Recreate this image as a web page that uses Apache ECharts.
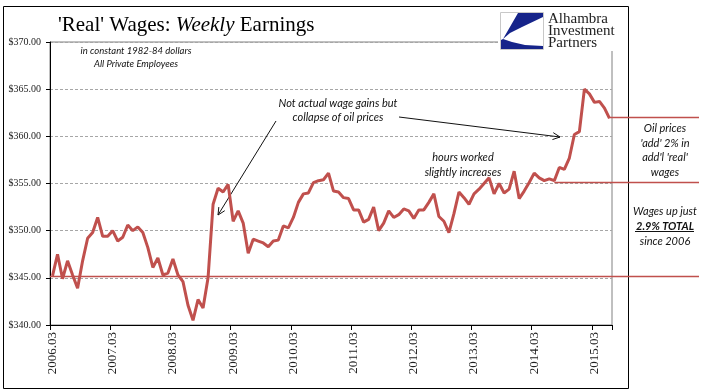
<!DOCTYPE html>
<html>
<head>
<meta charset="utf-8">
<script src="https://cdn.jsdelivr.net/npm/echarts@6/dist/echarts.min.js"></script>
<style>
  html, body { margin: 0; padding: 0; background: #fff; }
  #chart { width: 705px; height: 392px; }
</style>
</head>
<body>
<div id="chart"></div>
<script>
// ---------------- data ----------------
const startYear = 2006, startMonth = 3, monthCount = 112;   // 2006.03 .. 2015.06
const categories = [];
for (let k = 0; k < monthCount; k++) {
  const m = startMonth - 1 + k;
  const y = startYear + Math.floor(m / 12);
  const mm = (m % 12) + 1;
  categories.push(y + '.' + (mm < 10 ? '0' + mm : '' + mm));
}

// Real average weekly earnings, all private employees (1982-84 $)
const wages2006_2008 = [345.2, 347.5, 344.9, 346.8, 345.3, 343.9, 346.8, 349.2, 349.8, 351.4, 349.4, 349.4,
                        350.0, 348.9, 349.3, 350.6, 350.0, 350.4, 349.8, 348.2, 346.1, 347.1, 345.3, 345.5];
const wages2008_2010 = [347.0, 345.3, 344.6, 342.1, 340.5, 342.7, 341.8, 345.0, 352.8, 354.5, 354.1, 354.9,
                        351.0, 352.1, 350.8, 347.6, 349.1, 348.9, 348.7, 348.3, 348.9, 349.0, 350.5, 350.3];
const wages2010_2012 = [351.4, 353.0, 353.9, 354.0, 355.1, 355.3, 355.4, 356.1, 354.2, 354.1, 353.5, 353.4,
                        352.2, 352.2, 350.9, 351.2, 352.5, 350.0, 350.8, 352.1, 351.4, 351.7, 352.3, 352.1];
const wages2012_2014 = [351.3, 352.2, 352.2, 353.0, 353.9, 351.5, 351.0, 349.8, 351.8, 354.1, 353.5, 352.8,
                        353.9, 354.4, 355.0, 355.6, 353.9, 355.0, 354.0, 354.4, 356.3, 353.4, 354.2, 355.1];
const wages2014_2015 = [356.1, 355.6, 355.3, 355.5, 355.3, 356.7, 356.5, 357.7, 360.2, 360.5, 365.0, 364.5,
                        363.6, 363.7, 363.0, 361.9];
const wages = [].concat(wages2006_2008, wages2008_2010, wages2010_2012, wages2012_2014, wages2014_2015);

const yMin = 340, yMax = 370, yStep = 5;

// reference levels: [category index where the line starts, level]
const refLevels = [[0, 345.1], [100, 355.1], [111, 361.9]];

const titleParts = ["'Real' Wages: ", 'Weekly', ' Earnings'];
const subtitleLines = ['in constant 1982-84 dollars', 'All Private Employees'];
const noteOil = ['Not actual wage gains but', 'collapse of oil prices'];
const noteHours = ['hours worked', 'slightly increases'];
const noteAdd = ['Oil prices', "'add' 2% in", "add'l 'real'", 'wages'];
const noteTotal = ['Wages up just', '2.9% TOTAL', 'since 2006'];
const logoLines = ['Alhambra', 'Investment', 'Partners'];

// ---------------- chart ----------------
const chart = echarts.init(document.getElementById('chart'), null, { renderer: 'canvas' });

const GRID = { left: 50, right: 93, top: 42, bottom: 67 };

chart.setOption({
  animation: false,
  backgroundColor: '#fff',
  grid: { left: GRID.left, right: GRID.right, top: GRID.top, bottom: GRID.bottom,
          show: true, borderColor: '#808080', borderWidth: 1, backgroundColor: 'transparent' },
  xAxis: {
    type: 'category',
    data: categories,
    boundaryGap: true,
    axisLine: { lineStyle: { color: '#000', width: 1 } },
    axisTick: { show: true, interval: 11, length: 5, lineStyle: { color: '#000' } },
    axisLabel: { interval: 11, rotate: 90, margin: 7, color: '#222',
                 fontFamily: 'Liberation Serif', fontSize: 13 },
    splitLine: { show: false }
  },
  yAxis: {
    type: 'value',
    min: yMin, max: yMax, interval: yStep,
    axisLine: { show: true, lineStyle: { color: '#000', width: 1 } },
    axisTick: { show: true, length: 4, lineStyle: { color: '#000' } },
    axisLabel: { margin: 9, color: '#222', fontFamily: 'Liberation Serif', fontSize: 10,
                 formatter: v => '$' + v.toFixed(2) },
    splitLine: { show: true, lineStyle: { color: '#a6a6a6', type: [3, 2], width: 1 } }
  },
  series: [{
    type: 'line',
    data: wages,
    symbol: 'none',
    smooth: false,
    lineStyle: { color: '#c0504d', width: 3 },
    z: 30
  }]
});

// ---------------- annotations ----------------
function px(idx, val) { return chart.convertToPixel({ gridIndex: 0 }, [idx, val]); }

const redLine = '#c0504d';
const g = [];

// outer border
g.push({ type: 'rect', shape: { x: 3.5, y: 6.5, width: 625, height: 382 },
         style: { fill: 'none', stroke: '#000', lineWidth: 1 }, z: 1, silent: true });

// reference lines
refLevels.forEach(([idx, val], k) => {
  const p = px(idx, val);
  const x0 = k === 0 ? GRID.left : p[0];
  const yy = Math.round(p[1]) - 0.5;
  g.push({ type: 'line', shape: { x1: x0, y1: yy, x2: 699, y2: yy },
           style: { stroke: redLine, lineWidth: 1.3 }, z: 10, silent: true });
});

// logo box
g.push({ type: 'rect', shape: { x: 498, y: 7, width: 130, height: 44 },
         style: { fill: '#fff', stroke: 'none' }, z: 20, silent: true });
g.push({ type: 'rect', shape: { x: 500.5, y: 12.5, width: 43, height: 37 },
         style: { fill: '#fff', stroke: '#c8c8c8', lineWidth: 1 }, z: 21, silent: true });
g.push({ type: 'polygon', shape: { points: [[518, 13], [543, 13], [543, 17], [522, 27], [510, 33], [503, 39]] },
         style: { fill: '#16248a' }, z: 22, silent: true });
g.push({ type: 'polygon', shape: { points: [[503, 39], [512, 42], [525, 45], [543, 46], [543, 49], [501, 49], [501, 40]] },
         style: { fill: '#16248a' }, z: 22, silent: true });
const logoY = [19.5, 31.5, 43.2];
logoLines.forEach((t, k) => {
  g.push({ type: 'text', x: 548, y: logoY[k], z: 22, silent: true,
           style: { text: t, fill: '#222', font: '15px "Liberation Serif"', verticalAlign: 'middle', align: 'left' } });
});

// title
g.push({ type: 'text', x: 58, y: 25, z: 22, silent: true,
  style: {
    text: '{n|' + titleParts[0] + '}{i|' + titleParts[1] + '}{n|' + titleParts[2] + '}',
    verticalAlign: 'middle', align: 'left',
    rich: {
      n: { fontFamily: 'Liberation Serif', fontSize: 21, color: '#24246e' },
      i: { fontFamily: 'Liberation Serif', fontSize: 21, fontStyle: 'italic', color: '#24246e' }
    }
  } });

// helper for multi-line centered italic text
function addLines(lines, cx, y0, step, size, extra) {
  lines.forEach((t, k) => {
    const st = { text: t, fill: '#111', font: 'italic ' + size + 'px Lato', align: 'center', verticalAlign: 'middle' };
    if (extra && extra[k]) Object.assign(st, extra[k]);
    g.push({ type: 'text', x: cx, y: y0 + k * step, z: 22, silent: true, style: st });
  });
}
addLines(subtitleLines, 136, 51, 12.6, 9.5);
addLines(noteOil, 338, 103, 14.5, 11);
addLines(noteHours, 463, 157.5, 15, 11);
addLines(noteAdd, 665, 128.5, 14.6, 11);
addLines(noteTotal, 665, 211.5, 14.8, 11, { 1: { font: 'italic bold 11px Lato' } });
g.push({ type: 'line', shape: { x1: 635, y1: 231.5, x2: 694, y2: 231.5 },
         style: { stroke: '#111', lineWidth: 1 }, z: 22, silent: true });

// arrows
function arrow(x1, y1, x2, y2) {
  g.push({ type: 'line', shape: { x1, y1, x2, y2 }, style: { stroke: '#111', lineWidth: 1 }, z: 22, silent: true });
  const a = Math.atan2(y2 - y1, x2 - x1), L = 8, w = 0.45;
  g.push({ type: 'polyline', z: 22, silent: true,
    shape: { points: [[x2 - L * Math.cos(a - w), y2 - L * Math.sin(a - w)], [x2, y2],
                      [x2 - L * Math.cos(a + w), y2 - L * Math.sin(a + w)]] },
    style: { stroke: '#111', lineWidth: 1, fill: 'none' } });
}
arrow(276, 121, 218, 215);
arrow(399, 117, 560, 137);

chart.setOption({ graphic: { elements: g } });
</script>
</body>
</html>
